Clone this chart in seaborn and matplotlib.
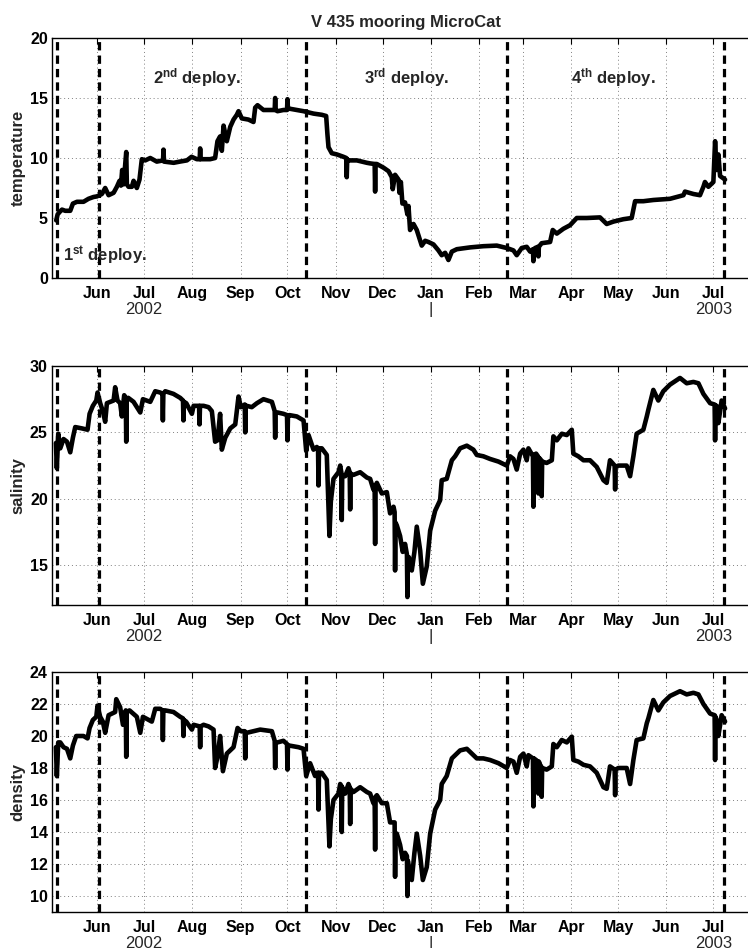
import pandas as pd
import matplotlib
matplotlib.use("Agg")
import matplotlib.pyplot as plt
import matplotlib.dates as mdates
import seaborn as sns

sns.set_style("white")
plt.rcParams["font.family"] = ["Liberation Sans", "DejaVu Sans"]
plt.rcParams["mathtext.fontset"] = "custom"
plt.rcParams["mathtext.rm"] = "Liberation Sans"
plt.rcParams["mathtext.bf"] = "Liberation Sans:bold"

# Record times are given as days since 1 June 2002: (day, value)
RECORD_START = pd.Timestamp("2002-06-01")

temperature = [
    (-26.3, 4.8), (-25.4, 5.3), (-24.1, 5.5), (-22.6, 5.7), (-20.5, 5.6),
    (-17.3, 5.6), (-15.6, 6.2), (-13.0, 6.35), (-8.8, 6.35), (-5.6, 6.6),
    (-2.4, 6.75), (-0.2, 6.8), (3.0, 7.0), (5.1, 7.5), (7.3, 6.9),
    (10.5, 7.1), (12.6, 7.6), (14.3, 8.1), (15.2, 7.7), (16.0, 9.0),
    (16.9, 7.8), (18.0, 9.5), (18.6, 10.5), (19.0, 7.8), (20.1, 7.6),
    (22.2, 7.6), (23.3, 8.1), (25.4, 7.5), (27.1, 8.2), (28.6, 9.9),
    (30.8, 9.8), (34.0, 10.0), (38.2, 9.7), (42.2, 9.8), (42.5, 10.7),
    (42.8, 9.7), (49.0, 9.6), (53.0, 9.7), (57.5, 9.8), (60.5, 10.1),
    (63.9, 9.9), (65.7, 9.9), (66.0, 10.8), (66.3, 9.9), (68.2, 9.9),
    (72.4, 9.9), (75.6, 10.0), (77.1, 11.4), (78.8, 11.8), (79.9, 10.6),
    (81.0, 12.7), (83.1, 11.4), (85.3, 12.6), (87.4, 13.2), (89.5, 13.6),
    (90.6, 13.9), (92.7, 13.3), (97.0, 13.2), (100.2, 13.0), (101.3, 14.2),
    (102.8, 14.4), (106.6, 14.0), (112.0, 14.0), (113.8, 14.0), (114.1, 15.0),
    (114.4, 14.0), (115.6, 13.9), (119.4, 14.0), (121.7, 14.0), (122.0, 14.9),
    (122.3, 14.1), (123.7, 14.1), (128.0, 14.0), (132.3, 13.9), (138.7, 13.7),
    (144.0, 13.6), (146.8, 13.5), (147.6, 12.0), (148.3, 10.9), (150.4, 10.4),
    (153.6, 10.3), (157.9, 10.1), (159.7, 10.0), (160.0, 8.4), (160.3, 9.9),
    (161.1, 9.8), (166.5, 9.8), (172.9, 9.6), (175.0, 9.55), (177.9, 9.5),
    (178.2, 7.2), (178.5, 9.5), (179.3, 9.5), (183.5, 9.2), (186.8, 8.9),
    (188.9, 8.4), (189.5, 7.4), (191.0, 8.6), (193.2, 8.2), (193.8, 7.1),
    (194.7, 8.0), (195.7, 6.2), (197.4, 6.3), (198.9, 5.3), (199.6, 6.0),
    (200.6, 4.0), (202.8, 4.5), (204.9, 4.0), (208.1, 2.7), (210.3, 3.1),
    (212.4, 3.0), (215.6, 2.8), (218.8, 2.3), (220.9, 1.9), (223.1, 2.1),
    (225.2, 1.5), (227.4, 2.2), (230.6, 2.4), (239.1, 2.55), (247.6, 2.65),
    (256.2, 2.7), (262.6, 2.5), (266.9, 2.3), (269.0, 1.9), (272.2, 2.5),
    (275.4, 2.6), (277.6, 2.2), (279.4, 2.4), (279.7, 1.4), (280.0, 2.4),
    (280.8, 2.5), (282.6, 2.6), (282.9, 1.8), (283.2, 2.6), (285.0, 2.9),
    (290.4, 3.0), (292.1, 4.0), (294.7, 3.7), (298.9, 4.1), (303.2, 4.4),
    (307.5, 5.0), (313.9, 5.0), (322.4, 5.05), (326.7, 4.5), (331.0, 4.7),
    (337.4, 4.9), (342.7, 5.0), (344.9, 6.4), (350.2, 6.4), (356.6, 6.5),
    (367.3, 6.6), (375.9, 6.9), (376.9, 7.2), (382.3, 7.0), (386.5, 6.9),
    (388.7, 7.6), (389.7, 8.0), (391.9, 7.6), (395.1, 8.0), (396.2, 11.4),
    (397.2, 9.0), (398.3, 10.3), (399.4, 8.5), (401.5, 8.3), (402.6, 8.2),
]

salinity = [
    (-26.5, 24.2), (-25.9, 22.3), (-25.0, 24.9), (-23.7, 23.8), (-21.6, 24.5),
    (-19.4, 24.3), (-17.3, 23.5), (-15.6, 24.6), (-14.1, 25.4), (-9.8, 25.3),
    (-6.2, 25.2), (-4.9, 26.4), (-2.8, 27.0), (-0.6, 27.4), (0.2, 28.0),
    (1.9, 27.2), (3.6, 26.6), (5.1, 25.8), (6.2, 27.2), (10.5, 27.4),
    (11.5, 28.4), (13.0, 27.4), (14.7, 27.2), (15.8, 26.2), (17.3, 27.8),
    (18.3, 27.6), (18.6, 24.3), (18.9, 27.5), (19.9, 27.6), (23.3, 27.3),
    (27.6, 26.5), (29.3, 27.5), (34.0, 27.3), (37.2, 28.1), (40.4, 28.0),
    (41.8, 27.9), (42.1, 25.9), (42.4, 27.9), (43.6, 28.1), (48.9, 27.9),
    (53.2, 27.6), (55.0, 27.4), (55.3, 25.9), (55.6, 27.3), (57.1, 27.2),
    (60.7, 26.4), (61.8, 27.0), (65.3, 27.0), (65.6, 25.6), (65.9, 27.0),
    (68.2, 27.0), (71.4, 26.9), (73.5, 26.6), (75.6, 24.3), (77.1, 24.4),
    (78.8, 26.4), (79.9, 23.7), (82.1, 24.6), (85.3, 25.3), (88.5, 25.6),
    (90.6, 27.7), (92.1, 26.9), (94.6, 27.1), (94.9, 25.0), (95.2, 27.0),
    (95.9, 27.0), (99.1, 26.9), (102.4, 27.2), (106.6, 27.5), (112.0, 27.3),
    (113.8, 26.6), (114.1, 24.6), (114.4, 26.5), (115.6, 26.5), (119.4, 26.4),
    (121.7, 26.3), (122.0, 24.4), (122.3, 26.2), (123.3, 26.3), (128.0, 26.2),
    (132.3, 25.9), (134.0, 23.6), (135.5, 24.8), (138.7, 23.7), (140.8, 23.9),
    (141.6, 23.8), (141.9, 21.0), (142.2, 23.8), (144.0, 23.8), (147.2, 23.3),
    (148.9, 17.2), (149.8, 19.8), (151.5, 21.5), (154.7, 22.0), (155.8, 22.5),
    (156.5, 22.0), (156.8, 18.4), (157.1, 21.8), (159.0, 21.7), (161.1, 22.3),
    (161.9, 22.0), (162.2, 19.2), (162.5, 21.9), (164.3, 21.8), (168.6, 22.0),
    (172.9, 21.6), (175.0, 21.5), (177.1, 20.7), (177.9, 20.8), (178.2, 16.6),
    (178.5, 21.0), (179.3, 21.2), (182.5, 20.4), (185.7, 20.5), (187.8, 18.9),
    (190.0, 19.4), (190.7, 19.0), (191.0, 14.6), (191.3, 18.2), (192.1, 18.0),
    (194.2, 17.2), (195.9, 16.0), (197.4, 16.6), (198.6, 15.8), (198.9, 12.6),
    (199.2, 15.6), (199.8, 15.6), (201.7, 14.6), (203.4, 16.0), (204.9, 17.9),
    (207.1, 16.1), (208.8, 13.6), (211.3, 14.9), (213.5, 17.6), (216.7, 19.1),
    (219.9, 19.9), (220.9, 21.4), (224.1, 21.5), (227.4, 22.9), (229.5, 23.2),
    (232.7, 23.8), (237.0, 24.0), (241.2, 23.7), (243.4, 23.3), (247.6, 23.2),
    (251.9, 23.0), (257.3, 22.8), (262.6, 22.5), (264.7, 23.2), (266.9, 23.0),
    (269.0, 22.2), (271.2, 23.4), (273.3, 23.7), (275.4, 22.9), (276.5, 23.8),
    (279.4, 23.2), (279.7, 19.4), (280.0, 23.3), (281.4, 23.4), (282.6, 23.2),
    (282.9, 20.4), (283.2, 23.1), (284.0, 23.0), (284.7, 22.9), (285.0, 20.2),
    (285.3, 22.8), (288.2, 22.7), (291.5, 22.9), (292.5, 24.7), (294.7, 24.4),
    (297.9, 24.9), (301.1, 24.8), (304.3, 25.2), (305.3, 23.4), (308.5, 23.2),
    (311.8, 22.9), (316.0, 22.9), (320.3, 22.4), (324.6, 21.4), (326.7, 21.2),
    (328.8, 22.9), (331.8, 22.5), (332.1, 20.7), (332.4, 22.4), (334.2, 22.5),
    (339.5, 22.5), (341.7, 21.7), (343.8, 23.2), (345.9, 24.9), (350.2, 25.2),
    (352.4, 26.2), (353.4, 26.7), (356.6, 28.2), (359.8, 27.4), (363.0, 28.1),
    (367.3, 28.6), (373.7, 29.1), (378.0, 28.7), (382.3, 28.8), (385.5, 28.7),
    (388.7, 27.9), (393.0, 27.2), (395.9, 27.1), (396.2, 24.4), (396.5, 27.0),
    (397.2, 27.0), (398.3, 25.7), (400.4, 27.4), (402.6, 26.8),
]

density = [
    (-26.5, 19.3), (-25.9, 17.5), (-25.0, 19.6), (-23.7, 19.6), (-21.6, 19.3),
    (-19.4, 19.2), (-17.3, 18.6), (-15.6, 19.4), (-13.5, 20.0), (-8.8, 20.0),
    (-6.2, 19.85), (-4.9, 20.5), (-2.8, 21.0), (-0.6, 21.2), (0.2, 21.9),
    (1.9, 21.2), (3.6, 20.9), (5.1, 20.2), (7.3, 21.3), (11.5, 21.5),
    (12.2, 22.3), (14.7, 21.8), (16.5, 20.7), (18.3, 21.6), (18.6, 18.7),
    (18.9, 21.5), (20.7, 21.6), (25.4, 21.2), (27.6, 20.2), (29.3, 21.2),
    (35.0, 20.9), (37.2, 21.7), (40.4, 21.7), (41.8, 21.6), (42.1, 19.75),
    (42.4, 21.6), (43.6, 21.6), (48.9, 21.5), (53.2, 21.2), (55.0, 21.1),
    (55.3, 20.0), (55.6, 21.0), (57.1, 20.9), (60.7, 20.4), (61.8, 20.7),
    (65.7, 20.6), (66.0, 19.3), (66.3, 20.6), (68.2, 20.7), (71.4, 20.6),
    (74.6, 20.4), (75.6, 18.0), (77.1, 18.7), (78.8, 20.0), (80.6, 17.8),
    (83.1, 18.9), (87.4, 19.3), (90.0, 20.5), (92.1, 20.3), (94.6, 20.3),
    (94.9, 18.6), (95.2, 20.2), (95.9, 20.2), (100.2, 20.3), (104.5, 20.4),
    (112.0, 20.3), (113.8, 19.7), (114.1, 18.0), (114.4, 19.6), (115.6, 19.6),
    (119.4, 19.7), (121.7, 19.5), (122.0, 17.9), (122.3, 19.4), (123.3, 19.4),
    (129.1, 19.3), (132.3, 19.2), (134.0, 17.5), (136.5, 18.3), (139.7, 17.5),
    (140.8, 17.7), (141.6, 17.7), (141.9, 15.4), (142.2, 17.7), (144.0, 17.7),
    (147.2, 17.25), (148.9, 13.1), (149.8, 14.8), (151.5, 16.0), (154.7, 16.4),
    (155.8, 17.0), (156.5, 16.9), (156.8, 14.0), (157.1, 16.8), (159.0, 16.4),
    (161.1, 17.0), (161.9, 16.8), (162.2, 14.5), (162.5, 16.7), (164.3, 16.5),
    (168.6, 16.8), (172.9, 16.5), (175.0, 16.4), (177.1, 15.8), (177.9, 16.0),
    (178.2, 12.9), (178.5, 16.2), (179.3, 16.3), (182.5, 15.8), (185.7, 15.8),
    (187.8, 14.6), (190.0, 14.6), (190.7, 14.6), (191.0, 11.2), (191.3, 13.8),
    (192.1, 13.9), (194.2, 13.2), (195.9, 12.3), (197.4, 12.7), (198.6, 12.5),
    (198.9, 10.0), (199.2, 12.2), (199.8, 11.8), (201.7, 11.0), (203.4, 12.7),
    (204.9, 13.9), (207.1, 12.5), (208.8, 11.0), (211.3, 11.8), (213.5, 13.9),
    (216.7, 15.4), (219.9, 16.0), (220.9, 17.0), (224.1, 17.5), (227.4, 18.6),
    (229.5, 18.8), (232.7, 19.1), (237.0, 19.2), (241.2, 18.8), (243.4, 18.6),
    (247.6, 18.6), (251.9, 18.5), (257.3, 18.3), (262.6, 18.0), (264.7, 18.5),
    (266.9, 18.4), (269.0, 17.7), (271.2, 18.7), (273.3, 18.9), (275.4, 18.1),
    (276.5, 18.8), (279.4, 18.6), (279.7, 15.6), (280.0, 18.6), (281.4, 18.5),
    (282.6, 18.4), (282.9, 16.4), (283.2, 18.4), (284.0, 18.2), (284.7, 18.1),
    (285.0, 16.2), (285.3, 18.0), (288.2, 17.9), (291.5, 18.1), (292.5, 19.5),
    (294.7, 19.3), (297.9, 19.75), (301.1, 19.6), (304.3, 19.96), (305.3, 18.5),
    (308.5, 18.4), (311.8, 18.2), (316.0, 18.1), (320.3, 17.7), (324.6, 16.8),
    (326.7, 16.7), (328.8, 18.1), (331.8, 17.9), (332.1, 16.3), (332.4, 17.9),
    (334.2, 18.0), (339.5, 18.0), (341.7, 17.0), (343.8, 18.5), (345.9, 19.75),
    (350.2, 19.85), (352.4, 20.8), (353.4, 21.1), (356.6, 22.25), (359.8, 21.6),
    (363.0, 22.1), (367.3, 22.5), (373.7, 22.8), (378.0, 22.6), (382.3, 22.7),
    (385.5, 22.6), (388.7, 22.0), (393.0, 21.4), (395.9, 21.3), (396.2, 18.5),
    (396.5, 21.2), (397.2, 21.0), (398.3, 20.0), (400.4, 21.3), (402.6, 20.9),
]

# Instrument turnaround dates separating the deployments
deploy_bounds = ["2002-05-06", "2002-06-02", "2002-10-13", "2003-02-19", "2003-07-08"]
month_ticks = pd.date_range("2002-06-01", "2003-07-01", freq="MS")
x_range = (pd.Timestamp("2002-05-03"), pd.Timestamp("2003-07-31"))

panels = [
    ("temperature", temperature, (0, 20), [0, 5, 10, 15, 20], (38, 278)),
    ("salinity", salinity, (12, 30), [15, 20, 25, 30], (366, 605)),
    ("density", density, (9, 24), list(range(10, 25, 2)), (672, 912)),
]

W, H = 748, 948
fig = plt.figure(figsize=(W / 100, H / 100), dpi=100)

axes = []
for name, record, ylim, yticks, (top, bottom) in panels:
    ax = fig.add_axes([52 / W, 1 - bottom / H, (760 - 52) / W, (bottom - top) / H])
    days, vals = zip(*record)
    df = pd.DataFrame({
        "time": RECORD_START + pd.to_timedelta(list(days), unit="D"),
        "value": list(vals),
    })
    sns.lineplot(data=df, x="time", y="value", ax=ax, color="black",
                 linewidth=3.3, sort=False, estimator=None)
    for d in deploy_bounds:
        ax.axvline(pd.Timestamp(d), color="black", linewidth=2.3,
                   linestyle=(0, (2.6, 1.6)), zorder=3)
    ax.set_xlim(*x_range)
    ax.set_ylim(*ylim)
    ax.set_yticks(yticks)
    ax.set_xticks(month_ticks)
    ax.xaxis.set_major_formatter(mdates.DateFormatter("%b"))
    ax.grid(True, linestyle=(0, (1, 3)), color="0.5", linewidth=0.7)
    ax.tick_params(direction="in", length=4, width=0.8, top=True,
                   labelsize=11.5, colors="black")
    ax.tick_params(axis="x", pad=6)
    ax.tick_params(axis="y", pad=3)
    for lbl in ax.get_xticklabels() + ax.get_yticklabels():
        lbl.set_fontweight("bold")
    for side in ["left", "bottom", "top"]:
        ax.spines[side].set_color("black")
        ax.spines[side].set_linewidth(1.0)
    ax.spines["right"].set_visible(False)
    ax.set_xlabel("")
    ax.set_ylabel(name, fontsize=12, fontweight="bold")
    ax.yaxis.set_label_coords(-0.037, 0.5)

    # Year markers under the month labels
    for when, txt in [("2002-07-01", "2002"), ("2003-01-01", "|"), ("2003-07-01", "2003")]:
        ax.annotate(txt, xy=(mdates.date2num(pd.Timestamp(when)), 0),
                    xycoords=("data", "axes fraction"), xytext=(0, -22.5),
                    textcoords="offset points", ha="center", va="center",
                    fontsize=12)
    axes.append(ax)

# Deployment labels in the temperature panel
ax0 = axes[0]
labels = [
    ("2002-05-10", 1.4, r"$\mathbf{1^{st}}$ deploy."),
    ("2002-07-07", 16.2, r"$\mathbf{2^{nd}}$ deploy."),
    ("2002-11-19", 16.2, r"$\mathbf{3^{rd}}$ deploy."),
    ("2003-04-01", 16.2, r"$\mathbf{4^{th}}$ deploy."),
]
for when, yv, txt in labels:
    ax0.text(pd.Timestamp(when), yv, txt, fontsize=12, fontweight="bold",
             ha="left", va="baseline", zorder=5)

fig.text(406 / W, 1 - 22 / H, "V 435 mooring MicroCat", fontsize=12,
         fontweight="bold", ha="center", va="center")

fig.savefig("out.png", dpi=100)
